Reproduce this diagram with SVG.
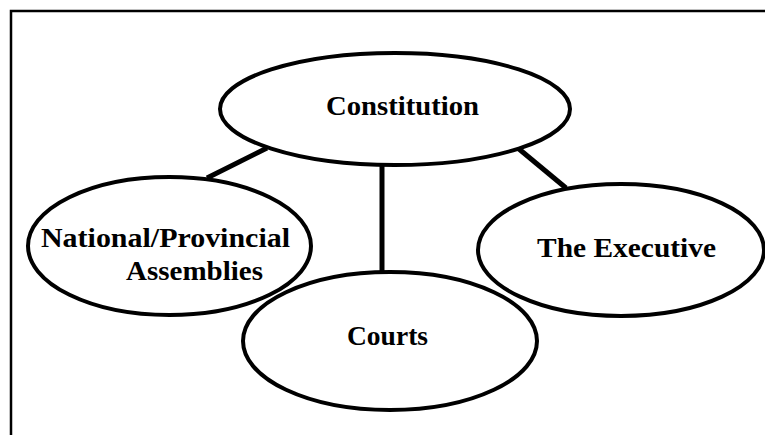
<svg xmlns="http://www.w3.org/2000/svg" width="765" height="435" viewBox="0 0 765 435">
<style>
  .node ellipse { fill: #ffffff; stroke: #000000; stroke-width: 4; }
  .node text { font-family: "Liberation Serif", "Times New Roman", serif; font-weight: bold; font-size: 27px; fill: #000000; }
  .conn line { stroke: #000000; stroke-width: 5; }
  .frame { fill: none; stroke: #000000; stroke-width: 2.5; }
</style>
<rect x="0" y="0" width="765" height="435" fill="#ffffff"/>
<path class="frame" d="M11,436 V11 H766"/>
<g id="connectors" class="conn">
  <line x1="207" y1="178" x2="267" y2="148"/>
  <line x1="382" y1="164" x2="382" y2="273"/>
  <line x1="519" y1="149" x2="566" y2="188"/>
</g>
<g id="node-constitution" class="node">
  <ellipse cx="395" cy="109" rx="175" ry="56"/>
  <text x="326" y="115" textLength="153" lengthAdjust="spacingAndGlyphs">Constitution</text>
</g>
<g id="node-assemblies" class="node">
  <ellipse cx="169.5" cy="246" rx="141.5" ry="69"/>
  <text x="41" y="247" textLength="249" lengthAdjust="spacingAndGlyphs">National/Provincial</text>
  <text x="126" y="280" textLength="137" lengthAdjust="spacingAndGlyphs">Assemblies</text>
</g>
<g id="node-executive" class="node">
  <ellipse cx="621" cy="250" rx="143" ry="66"/>
  <text x="537" y="257" textLength="179" lengthAdjust="spacingAndGlyphs">The Executive</text>
</g>
<g id="node-courts" class="node">
  <ellipse cx="390" cy="341" rx="147" ry="69"/>
  <text x="347" y="345" textLength="81" lengthAdjust="spacingAndGlyphs">Courts</text>
</g>
</svg>
